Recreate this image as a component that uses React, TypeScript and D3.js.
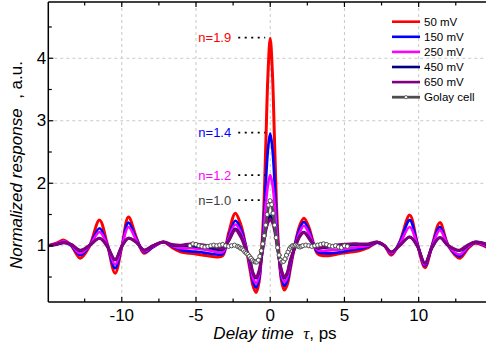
import React from 'react';
import * as d3 from 'd3';

const W = 486;
const H = 349;

// Delay time grid for the bolometer responses (ps)
const tau = [-14.95, -14.4, -13.9, -13.4, -12.8, -12.2, -11.5, -11.0, -10.45, -10.0, -9.55, -9.0, -8.5, -7.9, -7.2, -6.6, -6.0, -5.4, -4.8, -4.2, -3.6, -3.2, -2.8, -2.35, -2.0, -1.65, -1.35, -1.15, -0.95, -0.75, -0.6, -0.45, -0.3, -0.15, 0, 0.15, 0.3, 0.45, 0.6, 0.75, 0.95, 1.15, 1.35, 1.65, 2.0, 2.27, 2.6, 2.9, 3.2, 3.6, 4.2, 4.8, 5.4, 6.0, 6.6, 7.2, 7.7, 8.15, 8.7, 9.4, 9.9, 10.42, 10.9, 11.43, 12.0, 12.75, 13.3, 13.8, 14.55];

const v50 = [1.0, 1.04, 1.09, 1.0, 0.8, 0.98, 1.41, 1.05, 0.56, 0.98, 1.46, 1.12, 0.88, 0.98, 1.06, 0.97, 0.9, 0.88, 0.86, 0.84, 0.82, 0.84, 1.2, 1.52, 1.35, 1.0, 0.6, 0.35, 0.25, 0.42, 0.85, 1.5, 2.6, 3.75, 4.32, 3.75, 2.6, 1.5, 0.85, 0.45, 0.29, 0.38, 0.62, 1.0, 1.33, 1.44, 1.3, 1.05, 0.87, 0.84, 0.85, 0.88, 0.9, 0.92, 0.97, 1.05, 1.0, 0.85, 1.05, 1.49, 1.05, 0.65, 1.0, 1.37, 1.0, 0.8, 0.95, 1.04, 0.98];

const v150 = [1.0, 1.03, 1.07, 1.0, 0.85, 0.99, 1.28, 1.03, 0.64, 0.99, 1.37, 1.1, 0.9, 0.98, 1.06, 0.99, 0.93, 0.91, 0.9, 0.88, 0.86, 0.87, 1.15, 1.4, 1.28, 1.0, 0.66, 0.42, 0.33, 0.47, 0.8, 1.3, 2.0, 2.55, 2.8, 2.55, 2.0, 1.3, 0.8, 0.5, 0.36, 0.44, 0.67, 1.0, 1.28, 1.38, 1.25, 1.04, 0.9, 0.88, 0.88, 0.9, 0.93, 0.95, 0.99, 1.05, 1.0, 0.87, 1.04, 1.41, 1.04, 0.68, 1.0, 1.3, 1.0, 0.83, 0.97, 1.05, 0.99];

const v250 = [1.0, 1.03, 1.07, 1.01, 0.88, 0.99, 1.22, 1.02, 0.7, 0.99, 1.3, 1.08, 0.91, 0.99, 1.06, 1.0, 0.96, 0.96, 0.95, 0.93, 0.9, 0.9, 1.12, 1.34, 1.22, 0.98, 0.7, 0.48, 0.4, 0.53, 0.78, 1.15, 1.65, 1.98, 2.13, 1.98, 1.65, 1.15, 0.78, 0.55, 0.42, 0.5, 0.72, 0.98, 1.22, 1.32, 1.2, 1.03, 0.93, 0.92, 0.93, 0.94, 0.96, 0.98, 1.0, 1.06, 1.0, 0.88, 1.02, 1.3, 1.02, 0.7, 0.98, 1.25, 1.0, 0.86, 0.98, 1.05, 1.0];

const v450 = [1.0, 1.02, 1.05, 1.02, 0.92, 1.0, 1.12, 1.0, 0.77, 0.99, 1.12, 1.05, 0.93, 1.0, 1.06, 1.01, 1.0, 1.0, 0.98, 0.97, 0.94, 0.94, 1.08, 1.27, 1.17, 0.95, 0.75, 0.55, 0.48, 0.58, 0.8, 1.05, 1.28, 1.42, 1.48, 1.42, 1.28, 1.05, 0.8, 0.6, 0.48, 0.56, 0.76, 0.96, 1.16, 1.22, 1.13, 1.02, 0.96, 0.97, 0.98, 1.0, 1.01, 1.02, 1.02, 1.06, 1.0, 0.9, 1.0, 1.14, 1.0, 0.72, 0.97, 1.13, 1.0, 0.92, 1.0, 1.06, 1.02];

const v650 = [1.0, 1.02, 1.05, 1.02, 0.93, 1.0, 1.12, 1.0, 0.78, 0.99, 1.12, 1.05, 0.93, 1.0, 1.06, 1.02, 1.01, 1.03, 1.02, 1.0, 0.97, 0.96, 1.08, 1.25, 1.15, 0.95, 0.76, 0.56, 0.5, 0.6, 0.8, 1.02, 1.24, 1.37, 1.42, 1.37, 1.24, 1.02, 0.8, 0.62, 0.5, 0.57, 0.77, 0.96, 1.15, 1.21, 1.12, 1.02, 0.97, 0.98, 1.0, 1.02, 1.03, 1.03, 1.03, 1.06, 1.0, 0.9, 1.0, 1.14, 1.0, 0.72, 0.97, 1.13, 1.0, 0.93, 1.01, 1.06, 1.03];

// Golay cell reference measurement
const golayT = [-5.4, -5.2, -5.0, -4.8, -4.6, -4.4, -4.2, -4.0, -3.8, -3.6, -3.4, -3.2, -3.0, -2.8, -2.6, -2.4, -2.2, -2.1, -2.0, -1.9, -1.8, -1.7, -1.6, -1.5, -1.4, -1.3, -1.2, -1.1, -1.0, -0.9, -0.8, -0.7, -0.6, -0.5, -0.4, -0.3, -0.2, -0.1, 0, 0.1, 0.2, 0.3, 0.4, 0.5, 0.6, 0.7, 0.8, 0.9, 1.0, 1.1, 1.2, 1.3, 1.4, 1.5, 1.6, 1.7, 1.8, 1.9, 2.0, 2.1, 2.2, 2.4, 2.6, 2.8, 3.0, 3.2, 3.4, 3.6, 3.8, 4.0, 4.2, 4.4, 4.6, 4.8, 5.0, 5.2];
const golayV = [1.0, 1.03, 1.02, 1.0, 0.99, 0.98, 0.99, 1.0, 1.01, 1.0, 1.01, 1.02, 1.0, 0.99, 1.0, 1.01, 0.99, 0.98, 0.96, 0.95, 0.93, 0.9, 0.88, 0.86, 0.83, 0.8, 0.77, 0.75, 0.74, 0.74, 0.77, 0.83, 0.92, 1.03, 1.16, 1.33, 1.5, 1.65, 1.72, 1.66, 1.52, 1.33, 1.13, 0.97, 0.85, 0.77, 0.74, 0.75, 0.79, 0.85, 0.9, 0.95, 0.98, 1.0, 1.0, 1.01, 1.0, 0.99, 0.98, 0.99, 1.0, 1.01, 1.0, 0.99, 1.0, 1.01, 1.02, 1.03, 1.02, 1.0, 0.99, 1.0, 0.98, 0.97, 1.0, 0.99];

const seriesLabels = ['50 mV', '150 mV', '250 mV', '450 mV', '650 mV'];
const seriesValues = [v50, v150, v250, v450, v650];
const golayLabel = 'Golay cell';

const annLabels = ['n=1.9', 'n=1.4', 'n=1.2', 'n=1.0'];
const annLevels = [4.33, 2.81, 2.13, 1.73];

const xMajor = [-10, -5, 0, 5, 10];
const xMinor = [-12.5, -7.5, -2.5, 2.5, 7.5, 12.5];
const yMajor = [1, 2, 3, 4];
const yMinor = [0.5, 1.5, 2.5, 3.5, 4.5];

const seriesColors = ['#ff0000', '#0000ff', '#ff00ff', '#000080', '#800080'];
const seriesWidths = [3, 2.7, 2.7, 2.7, 3];
const annColors = ['#ff0000', '#0000ff', '#ff00ff', '#404040'];
const golayColor = '#4d4d4d';

const FONT = "Arial, 'Liberation Sans', Helvetica, sans-serif";

export default function App() {
  const left = 48.3, right = 486.2, top = 2, bottom = 302;
  const x = d3.scaleLinear().domain([-14.95, 14.55]).range([left, right]);
  const y = d3.scaleLinear().domain([0.1, 4.9]).range([bottom, top]);

  const line = d3
    .line<[number, number]>()
    .x((d) => x(d[0]))
    .y((d) => y(d[1]))
    .curve(d3.curveCatmullRom.alpha(0.5));

  const golayPts: [number, number][] = golayT.map((t, i) => [t, golayV[i]]);

  const legX1 = 392, legX2 = 420, legTextX = 424, legY0 = 21.7, legDy = 15.1;

  return (
    <svg
      width={W}
      height={H}
      style={{ position: 'absolute', left: 0, top: 0, background: '#fff' }}
      fontFamily={FONT}
    >
      <defs>
        <clipPath id="plotclip">
          <rect x={left} y={top} width={right - left} height={bottom - top} />
        </clipPath>
      </defs>

      {/* grid */}
      <g stroke="#c8c8c8" strokeWidth={1} strokeDasharray="3,3">
        {xMajor.map((v) => (
          <line key={'gx' + v} x1={x(v)} x2={x(v)} y1={top} y2={bottom} />
        ))}
        {yMajor.map((v) => (
          <line key={'gy' + v} x1={left} x2={right} y1={y(v)} y2={y(v)} />
        ))}
      </g>

      {/* series */}
      <g clipPath="url(#plotclip)" fill="none" strokeLinejoin="round" strokeLinecap="round">
        {seriesValues.map((vals, si) => (
          <path
            key={'s' + si}
            d={line(tau.map((t, i) => [t, vals[i]] as [number, number])) || ''}
            stroke={seriesColors[si]}
            strokeWidth={seriesWidths[si]}
          />
        ))}
        <path d={line(golayPts) || ''} stroke={golayColor} strokeWidth={2.8} />
        {golayPts.map((p, i) => (
          <circle
            key={'gm' + i}
            cx={x(p[0])}
            cy={y(p[1])}
            r={2.1}
            fill="#ffffff"
            stroke={golayColor}
            strokeWidth={1}
          />
        ))}
      </g>

      {/* annotations */}
      {annLabels.map((lab, i) => (
        <g key={'a' + i}>
          <line
            x1={x(0) - 32}
            x2={x(0) - 5}
            y1={y(annLevels[i])}
            y2={y(annLevels[i])}
            stroke="#000"
            strokeWidth={1.6}
            strokeDasharray="2 4.5"
            strokeLinecap="butt"
          />
          <text
            x={x(0) - 39}
            y={y(annLevels[i])}
            textAnchor="end"
            dominantBaseline="central"
            fontSize={13}
            fill={annColors[i]}
          >
            {lab}
          </text>
        </g>
      ))}

      {/* axes frame */}
      <g stroke="#000" strokeWidth={1.5} fill="none">
        <line x1={left} x2={left} y1={top} y2={bottom} />
        <line x1={left} x2={right} y1={bottom} y2={bottom} />
        <line x1={left} x2={right} y1={top} y2={top} />
      </g>
      <g stroke="#000" strokeWidth={1.2}>
        {xMajor.concat(xMinor).map((v) => (
          <g key={'tx' + v}>
            <line x1={x(v)} x2={x(v)} y1={bottom} y2={bottom - (xMajor.includes(v) ? 5 : 3.5)} />
            <line x1={x(v)} x2={x(v)} y1={top} y2={top + (xMajor.includes(v) ? 5 : 3.5)} />
          </g>
        ))}
        {yMajor.concat(yMinor).map((v) => (
          <line key={'ty' + v} x1={left} x2={left + (yMajor.includes(v) ? 5 : 3.5)} y1={y(v)} y2={y(v)} />
        ))}
      </g>

      {/* tick labels */}
      <g fontSize={17} fill="#000">
        {xMajor.map((v) => (
          <text key={'lx' + v} x={x(v)} y={320.5} textAnchor="middle">
            {v < 0 ? '-' + Math.abs(v) : String(v)}
          </text>
        ))}
        {yMajor.map((v) => (
          <text key={'ly' + v} x={left - 2} y={y(v)} textAnchor="end" dominantBaseline="central">
            {String(v)}
          </text>
        ))}
      </g>

      {/* axis titles */}
      <text x={275} y={339} textAnchor="middle" fontSize={17} fill="#000">
        <tspan fontStyle="italic">Delay time</tspan>
        <tspan>{'\u00a0\u00a0'}</tspan>
        <tspan fontStyle="italic" fontFamily="'Liberation Serif', 'Times New Roman', serif">τ</tspan>
        <tspan>, ps</tspan>
      </text>
      <text
        transform={`translate(22,165) rotate(-90)`}
        textAnchor="middle"
        fontSize={17}
        fill="#000"
      >
        <tspan fontStyle="italic">Normalized response</tspan>
        <tspan>{'\u00a0\u00a0, a.u.'}</tspan>
      </text>

      {/* legend */}
      <g fontSize={11.5} fill="#000">
        {seriesLabels.map((lab, i) => (
          <g key={'lg' + i}>
            <line
              x1={legX1}
              x2={legX2}
              y1={legY0 + i * legDy}
              y2={legY0 + i * legDy}
              stroke={seriesColors[i]}
              strokeWidth={2.6}
            />
            <text x={legTextX} y={legY0 + i * legDy} dominantBaseline="central">
              {lab}
            </text>
          </g>
        ))}
        <line
          x1={legX1}
          x2={legX2}
          y1={legY0 + 5 * legDy}
          y2={legY0 + 5 * legDy}
          stroke={golayColor}
          strokeWidth={2.8}
        />
        <circle cx={(legX1 + legX2) / 2} cy={legY0 + 5 * legDy} r={1.6} fill="#fff" stroke={golayColor} strokeWidth={0.8} />
        <text x={legTextX} y={legY0 + 5 * legDy} dominantBaseline="central">
          {golayLabel}
        </text>
      </g>
    </svg>
  );
}
